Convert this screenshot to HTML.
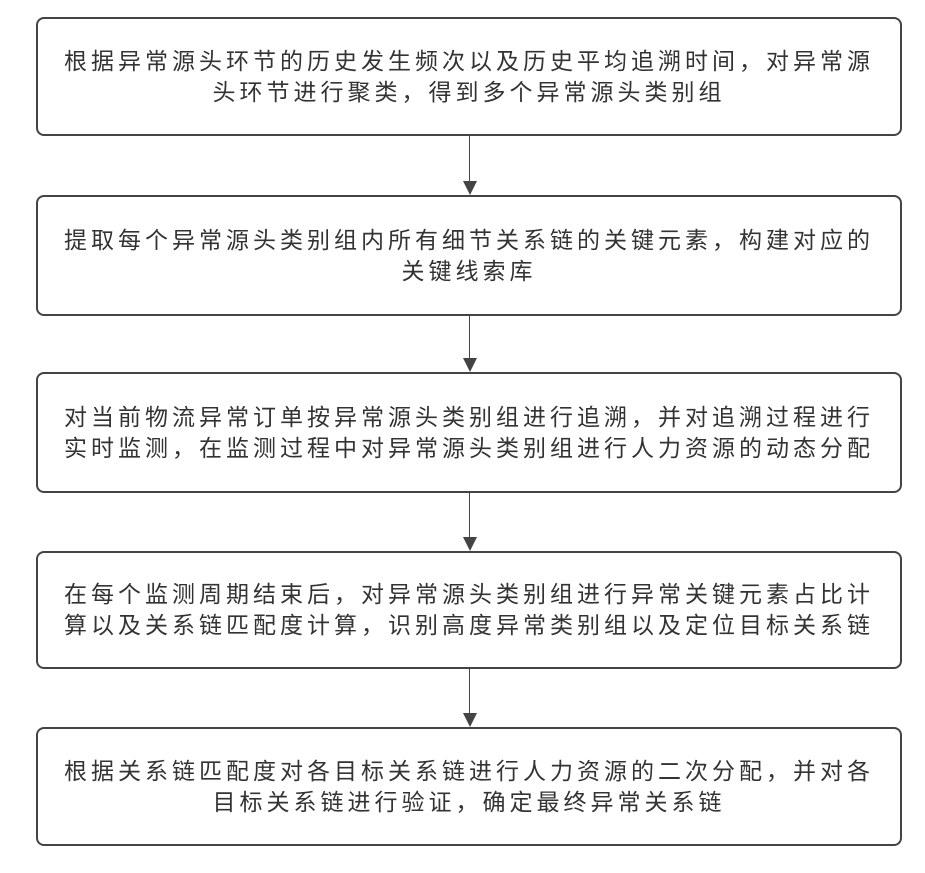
<!DOCTYPE html>
<html><head><meta charset="utf-8"><style>
body{margin:0;width:925px;height:873px;background:#fff;position:relative;overflow:hidden;font-family:"Liberation Sans","Noto Sans CJK SC",sans-serif;}
.b{position:absolute;left:36px;width:866px;border:2px solid #444;border-radius:8px;box-sizing:border-box;display:flex;align-items:center;justify-content:center;text-align:center;font-size:23px;letter-spacing:4px;line-height:31px;color:#333;}
.b div{width:830px}
.a{position:absolute;left:469px;width:1px;background:#444}
.h{position:absolute;left:463px;width:0;height:0;border-left:7px solid transparent;border-right:7px solid transparent;border-top:14px solid #444}
</style></head><body>
<div class="b" style="top:17px;height:119px"><div>根据异常源头环节的历史发生频次以及历史平均追溯时间，对异常源头环节进行聚类，得到多个异常源头类别组</div></div>
<div class="a" style="top:136px;height:46px"></div><div class="h" style="top:181px"></div>
<div class="b" style="top:195px;height:121px"><div>提取每个异常源头类别组内所有细节关系链的关键元素，构建对应的关键线索库</div></div>
<div class="a" style="top:316px;height:43px"></div><div class="h" style="top:358px"></div>
<div class="b" style="top:372px;height:121px"><div>对当前物流异常订单按异常源头类别组进行追溯，并对追溯过程进行实时监测，在监测过程中对异常源头类别组进行人力资源的动态分配</div></div>
<div class="a" style="top:493px;height:45px"></div><div class="h" style="top:537px"></div>
<div class="b" style="top:551px;height:118px"><div>在每个监测周期结束后，对异常源头类别组进行异常关键元素占比计算以及关系链匹配度计算，识别高度异常类别组以及定位目标关系链</div></div>
<div class="a" style="top:669px;height:45px"></div><div class="h" style="top:713px"></div>
<div class="b" style="top:727px;height:119px"><div>根据关系链匹配度对各目标关系链进行人力资源的二次分配，并对各目标关系链进行验证，确定最终异常关系链</div></div>
</body></html>
